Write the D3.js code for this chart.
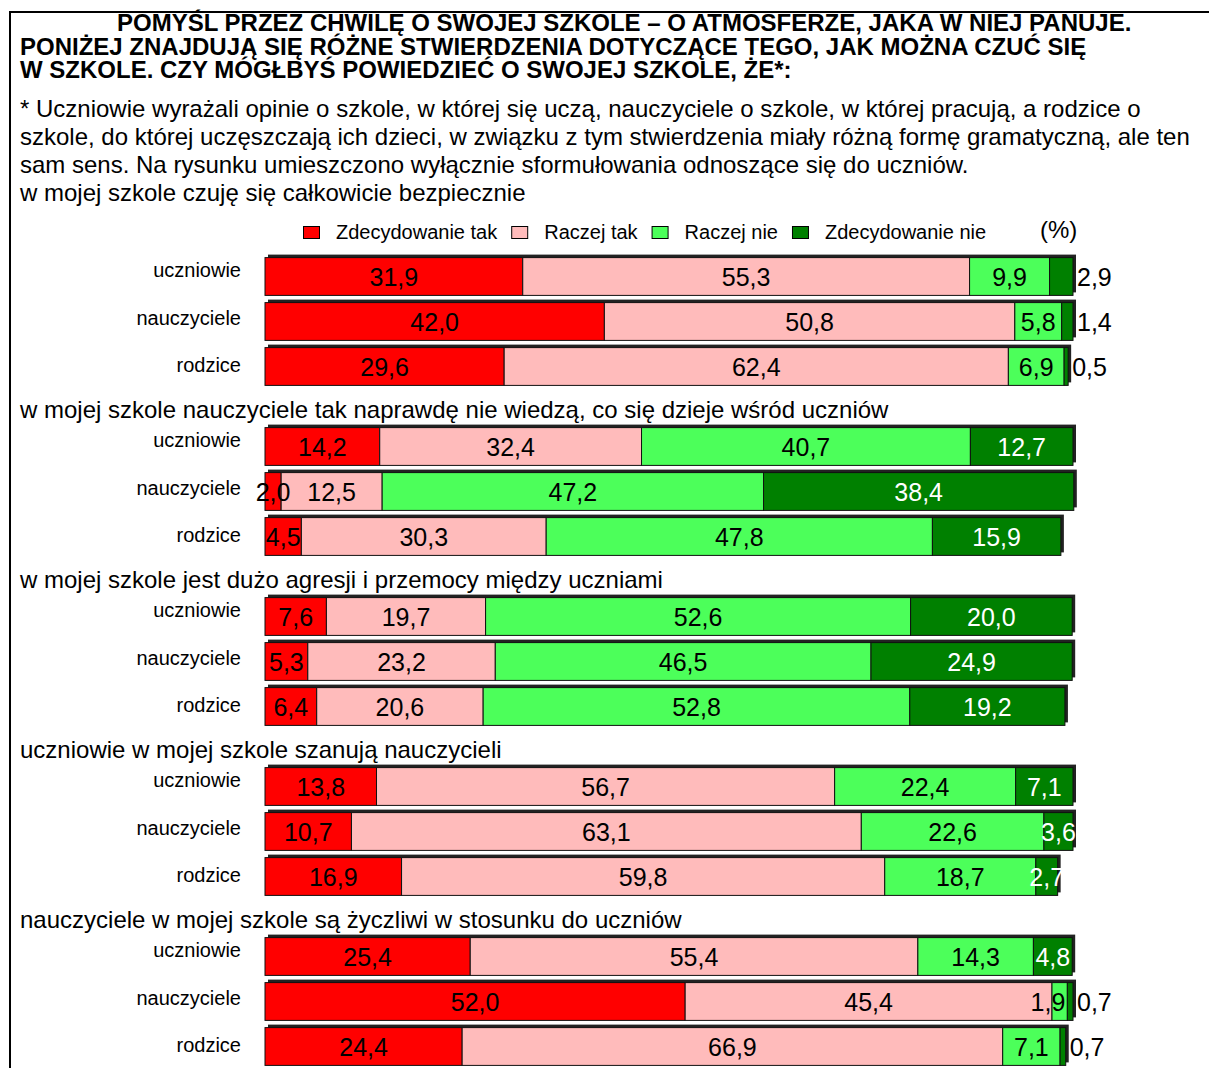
<!DOCTYPE html>
<html>
<head>
<meta charset="utf-8">
<script src="https://cdn.jsdelivr.net/npm/d3@7/dist/d3.min.js"></script>
<style>
    body { margin: 0; background: #fff; }
    svg { display: block; font-family: Arial, "Liberation Sans", sans-serif; }
</style>
</head>
<body>
<div id="chart"></div>
<script>
const titleLines = [
    'POMYŚL PRZEZ CHWILĘ O SWOJEJ SZKOLE – O ATMOSFERZE, JAKA W NIEJ PANUJE.',
    'PONIŻEJ ZNAJDUJĄ SIĘ RÓŻNE STWIERDZENIA DOTYCZĄCE TEGO, JAK MOŻNA CZUĆ SIĘ',
    'W SZKOLE. CZY MÓGŁBYŚ POWIEDZIEĆ O SWOJEJ SZKOLE, ŻE*:',
];
const noteLines = [
    '* Uczniowie wyrażali opinie o szkole, w której się uczą, nauczyciele o szkole, w której pracują, a rodzice o',
    'szkole, do której uczęszczają ich dzieci, w związku z tym stwierdzenia miały różną formę gramatyczną, ale ten',
    'sam sens. Na rysunku umieszczono wyłącznie sformułowania odnoszące się do uczniów.',
];
const statements = [
    'w mojej szkole czuję się całkowicie bezpiecznie',
    'w mojej szkole nauczyciele tak naprawdę nie wiedzą, co się dzieje wśród uczniów',
    'w mojej szkole jest dużo agresji i przemocy między uczniami',
    'uczniowie w mojej szkole szanują nauczycieli',
    'nauczyciele w mojej szkole są życzliwi w stosunku do uczniów',
];
const respondents = ['uczniowie', 'nauczyciele', 'rodzice'];
const answers = ['Zdecydowanie tak', 'Raczej tak', 'Raczej nie', 'Zdecydowanie nie'];
const answerColors = ['#ff0000', '#ffbbbb', '#4cff5a', '#008000'];

// one array per answer: [statement][respondent]
const zdecydowanieTak = [[31.9, 42.0, 29.6], [14.2, 2.0, 4.5], [7.6, 5.3, 6.4], [13.8, 10.7, 16.9], [25.4, 52.0, 24.4]];
const raczejTak = [[55.3, 50.8, 62.4], [32.4, 12.5, 30.3], [19.7, 23.2, 20.6], [56.7, 63.1, 59.8], [55.4, 45.4, 66.9]];
const raczejNie = [[9.9, 5.8, 6.9], [40.7, 47.2, 47.8], [52.6, 46.5, 52.8], [22.4, 22.6, 18.7], [14.3, 1.9, 7.1]];
const zdecydowanieNie = [[2.9, 1.4, 0.5], [12.7, 38.4, 15.9], [20.0, 24.9, 19.2], [7.1, 3.6, 2.7], [4.8, 0.7, 0.7]];
// statements whose narrow "Zdecydowanie nie" labels go outside the bar
const outsideLast = [true, false, false, false, true];

const series = [zdecydowanieTak, raczejTak, raczejNie, zdecydowanieNie];
const rows = [];
statements.forEach((s, i) => {
    respondents.forEach((r, j) => {
        const row = { statement: i, respondent: r };
        answers.forEach((a, k) => { row[a] = series[k][i][j]; });
        rows.push(row);
    });
});

const width = 1209;
const height = 1068;
const svg = d3.select('#chart')
    .append('svg')
    .attr('width', width)
    .attr('height', height);

// frame
svg.append('path')
    .attr('d', 'M10,' + height + 'V12H' + width)
    .attr('fill', 'none')
    .attr('stroke', '#000')
    .attr('stroke-width', 2);

// heading text
svg.append('g').selectAll('text')
    .data(titleLines)
    .join('text')
    .attr('x', (d, i) => (i === 0 ? 117 : 20))
    .attr('y', (d, i) => 31 + i * 23.5)
    .attr('font-size', 24)
    .attr('font-weight', 'bold')
    .text((d) => d);

svg.append('g').selectAll('text')
    .data(noteLines)
    .join('text')
    .attr('x', 20)
    .attr('y', (d, i) => 117 + i * 28)
    .attr('font-size', 24)
    .text((d) => d);

const x = d3.scaleLinear().domain([0, 100]).range([265, 1073]);
const yStatement = d3.scaleBand()
    .domain(d3.range(statements.length))
    .range([254, 254 + 170 * statements.length]);
const yRow = d3.scaleBand()
    .domain(respondents)
    .range([0, 135])
    .paddingInner(0.16)
    .paddingOuter(0.08);
const yLabel = d3.scalePoint().domain(respondents).range([23, 118]);
const color = d3.scaleOrdinal().domain(answers).range(answerColors);
const fmt = (v) => d3.format('.1f')(v).replace('.', ',');

// statement captions
svg.append('g').selectAll('text')
    .data(statements)
    .join('text')
    .attr('x', 20)
    .attr('y', (d, i) => (i === 0 ? 201 : yStatement(i) - 6))
    .attr('font-size', 24)
    .text((d) => d);

// legend
const legend = svg.append('g').attr('font-size', 20);
let lx = 303;
answers.forEach((a) => {
    legend.append('rect')
        .attr('x', lx + 0.5).attr('y', 226.5)
        .attr('width', 16).attr('height', 12)
        .attr('fill', color(a)).attr('stroke', '#000');
    const t = legend.append('text')
        .attr('x', lx + 33).attr('y', 239)
        .text(a);
    lx += 33 + t.node().getComputedTextLength() + 14;
});
legend.append('text')
    .attr('x', 1040).attr('y', 238)
    .attr('font-size', 24)
    .text('(%)');

// category labels
svg.append('g').selectAll('text')
    .data(rows)
    .join('text')
    .attr('x', 241)
    .attr('y', (d) => yStatement(d.statement) + yLabel(d.respondent))
    .attr('text-anchor', 'end')
    .attr('font-size', 20)
    .text((d) => d.respondent);

const stacked = d3.stack().keys(answers)(rows);
const bh = yRow.bandwidth();
const rowTop = (d) => yStatement(d.statement) + yRow(d.respondent);

// shadow behind each bar
svg.append('g').selectAll('rect')
    .data(rows)
    .join('rect')
    .attr('x', x(0) + 3)
    .attr('y', (d) => rowTop(d) - 3)
    .attr('width', (d) => x(d3.sum(answers, (a) => d[a])) - x(0))
    .attr('height', bh)
    .attr('fill', '#222');

const layer = svg.append('g').selectAll('g')
    .data(stacked)
    .join('g')
    .attr('fill', (d) => color(d.key));

layer.selectAll('rect')
    .data((d) => d)
    .join('rect')
    .attr('x', (d) => x(d[0]))
    .attr('y', (d) => rowTop(d.data))
    .attr('width', (d) => x(d[1]) - x(d[0]))
    .attr('height', bh)
    .attr('stroke', '#111')
    .attr('stroke-width', 1);

// value labels
const labels = svg.append('g').attr('font-size', 25);
stacked.forEach((s, k) => {
    s.forEach((d) => {
        const v = d[1] - d[0];
        const t = labels.append('text')
            .attr('y', rowTop(d.data) + bh / 2 + 9)
            .attr('fill', k === 3 ? '#fff' : '#000')
            .text(fmt(v));
        const tw = t.node().getComputedTextLength();
        const segW = x(d[1]) - x(d[0]);
        if (k === 3 && outsideLast[d.data.statement] && tw > segW) {
            t.attr('x', x(d[1]) + 4).attr('fill', '#000');
        } else if (k === 2 && tw > segW) {
            t.attr('x', x(d[1]) - 2).attr('text-anchor', 'end');
        } else {
            t.attr('x', (x(d[0]) + x(d[1])) / 2).attr('text-anchor', 'middle');
        }
    });
});
</script>
</body>
</html>
